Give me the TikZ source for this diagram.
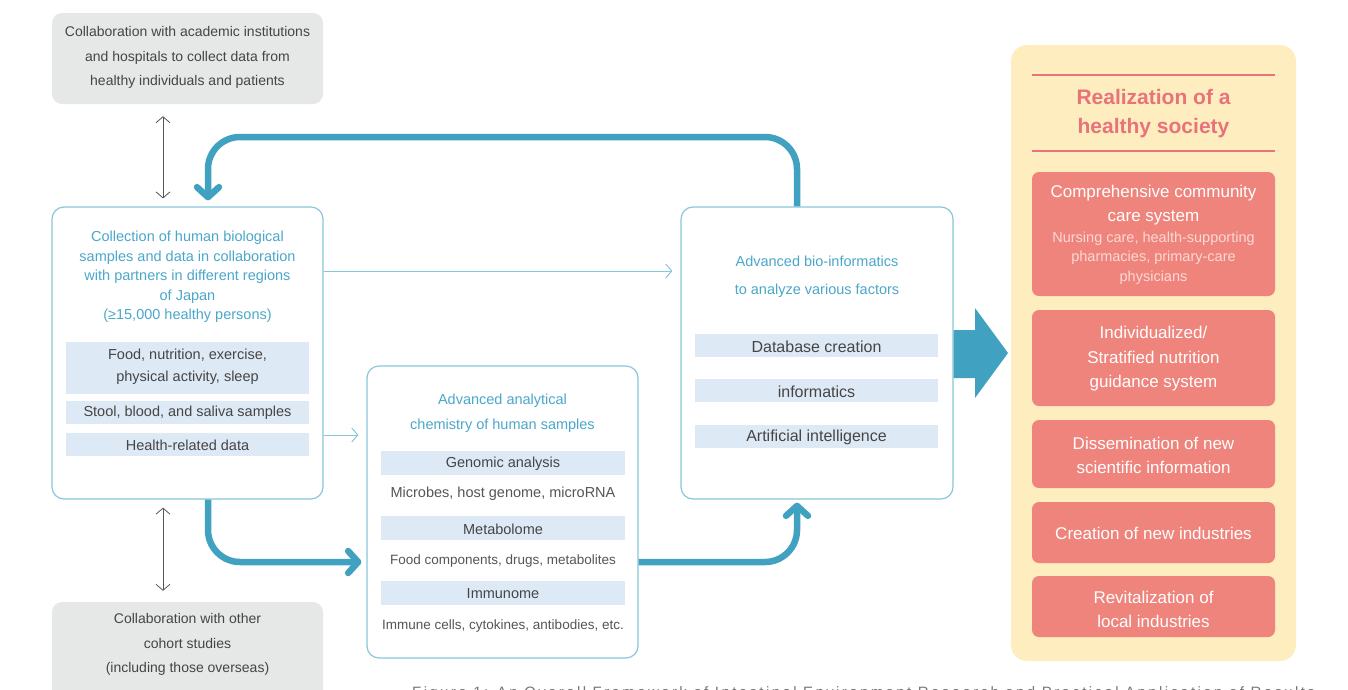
\documentclass[tikz,border=0pt]{standalone}
\usepackage{fontspec}
\setmainfont{Liberation Sans}
\newfontfamily\capfont[LetterSpace=16]{Liberation Sans}
\usetikzlibrary{arrows.meta}
\definecolor{boxgray}{HTML}{E6E7E7}
\definecolor{txtgray}{HTML}{454545}
\definecolor{plaingray}{HTML}{555555}
\definecolor{bordblue}{HTML}{88C6DA}
\definecolor{titleblue}{HTML}{4BA7CA}
\definecolor{bandblue}{HTML}{DEE9F6}
\definecolor{flowteal}{HTML}{41A1C1}
\definecolor{panelyellow}{HTML}{FEEDBF}
\definecolor{salmonbox}{HTML}{EF847C}
\definecolor{titlered}{HTML}{E8737A}
\definecolor{subpink}{HTML}{FBD9D4}
\definecolor{arrowgray}{HTML}{555555}
\definecolor{capgray}{HTML}{777777}
\newcommand{\fsz}[2]{\fontsize{#1pt}{#2pt}\selectfont}
\tikzset{
  graybox/.style={fill=boxgray, draw=none, rounded corners=10pt, inner sep=0pt},
  mainbox/.style={draw=bordblue, line width=1.2pt, fill=white, rounded corners=12pt, inner sep=0pt},
  bandbox/.style={fill=bandblue, draw=none, inner sep=0pt},
  salbox/.style={fill=salmonbox, draw=none, rounded corners=7pt, inner sep=0pt, minimum width=243pt},
  graytext/.style={font=\fsz{14}{24.5}, text=txtgray, align=center, inner sep=0pt},
  titletext/.style={font=\fsz{14.5}{19.5}, text=titleblue, align=center, inner sep=0pt},
  bandtext/.style={font=\fsz{14.5}{22}, text=txtgray, align=center, inner sep=0pt},
  plaintext/.style={font=\fsz{13.5}{18}, text=plaingray, align=center, inner sep=0pt},
  saltext/.style={font=\fsz{17}{24.5}, text=white, align=center, inner sep=0pt},
  subtext/.style={font=\fsz{14.5}{19.5}, text=subpink, align=center, inner sep=0pt},
  thickflow/.style={draw=flowteal, line width=6.5pt, rounded corners=32pt,
     -{Straight Barb[length=10pt,width=22pt,line cap=round,line join=round]}},
  thinflow/.style={draw=bordblue, line width=1pt, -{Straight Barb[length=6pt,width=14pt]}},
  dblarrow/.style={draw=arrowgray, line width=0.8pt,
     {Straight Barb[length=6pt,width=14pt]}-{Straight Barb[length=6pt,width=14pt]}},
}
\begin{document}
\begin{tikzpicture}[x=1pt,y=-1pt]
\useasboundingbox (0,0) rectangle (1348,689);
\clip (0,0) rectangle (1348,689);

% ---------- left column ----------
\node[graybox, minimum width=271pt, minimum height=91pt] (tb) at (187.5,58.5) {};
\node[graytext] (tbt) at (187.5,57.5) {Collaboration with academic institutions\\and hospitals to collect data from\\healthy individuals and patients};

\node[mainbox, minimum width=271pt, minimum height=292pt] (lb) at (187.5,353) {};
\node[titletext] (lbt) at (187.5,277) {Collection of human biological\\samples and data in collaboration\\with partners in different regions\\of Japan\\(≥15,000 healthy persons)};
\node[bandbox, minimum width=243pt, minimum height=52pt] (lb1) at (187.5,368) {};
\node[bandtext] (lb1t) at (187.5,367) {Food, nutrition, exercise,\\physical activity, sleep};
\node[bandbox, minimum width=243pt, minimum height=23pt] (lb2) at (187.5,412.5) {};
\node[bandtext] (lb2t) at (187.5,413) {Stool, blood, and saliva samples};
\node[bandbox, minimum width=243pt, minimum height=23pt] (lb3) at (187.5,444.5) {};
\node[bandtext] (lb3t) at (187.5,445.5) {Health-related data};

\node[graybox, minimum width=271pt, minimum height=120pt] (bb) at (187.5,662) {};
\node[graytext] (bbt) at (187.5,644.5) {Collaboration with other\\cohort studies\\(including those overseas)};

% ---------- middle box ----------
\node[mainbox, minimum width=271pt, minimum height=292pt] (mb) at (502.5,512) {};
\node[titletext, font=\fsz{14.5}{25}] (mbt) at (502.5,413.5) {Advanced analytical\\chemistry of human samples};
\node[bandbox, minimum width=244pt, minimum height=24pt] (mb1) at (503,463) {};
\node[bandtext] (mb1t) at (503,464) {Genomic analysis};
\node[plaintext, font=\fsz{14.5}{18}] (mb1p) at (503,494) {Microbes, host genome, microRNA};
\node[bandbox, minimum width=244pt, minimum height=24pt] (mb2) at (503,528) {};
\node[bandtext] (mb2t) at (503,529) {Metabolome};
\node[plaintext] (mb2p) at (503,561) {Food components, drugs, metabolites};
\node[bandbox, minimum width=244pt, minimum height=24pt] (mb3) at (503,593) {};
\node[bandtext] (mb3t) at (503,594) {Immunome};
\node[plaintext] (mb3p) at (503,626) {Immune cells, cytokines, antibodies, etc.};

% ---------- right analysis box ----------
\node[mainbox, minimum width=272pt, minimum height=292pt] (rb) at (817,353) {};
\node[titletext, font=\fsz{14.5}{28}] (rbt) at (817,276.5) {Advanced bio-informatics\\to analyze various factors};
\node[bandbox, minimum width=243pt, minimum height=23pt] (rb1) at (816.5,345.5) {};
\node[bandtext, font=\fsz{16}{20}] (rb1t) at (816.5,346.5) {Database creation};
\node[bandbox, minimum width=243pt, minimum height=23pt] (rb2) at (816.5,390.5) {};
\node[bandtext, font=\fsz{16}{20}] (rb2t) at (816.5,391.5) {informatics};
\node[bandbox, minimum width=243pt, minimum height=23pt] (rb3) at (816.5,436.5) {};
\node[bandtext, font=\fsz{16}{20}] (rb3t) at (816.5,437.5) {Artificial intelligence};

% ---------- right panel ----------
\node[fill=panelyellow, draw=none, rounded corners=16pt, minimum width=285pt, minimum height=616pt, inner sep=0pt] (pn) at (1153.5,353) {};
\coordinate (l1a) at (1032,75); \coordinate (l1b) at (1275,75);
\coordinate (l2a) at (1032,151); \coordinate (l2b) at (1275,151);
\draw[titlered, line width=1.2pt] (l1a) -- (l1b);
\draw[titlered, line width=1.2pt] (l2a) -- (l2b);
\node[font=\bfseries\fsz{21}{29}, text=titlered, align=center, inner sep=0pt] (pnt) at (1153.5,113.5) {Realization of a\\healthy society};

\node[salbox, minimum height=124pt] (s1) at (1153.5,234) {};
\node[saltext, font=\fsz{17}{24}] (s1t) at (1153.5,205.5) {Comprehensive community\\care system};
\node[subtext] (s1s) at (1153.5,258) {Nursing care, health-supporting\\pharmacies, primary-care\\physicians};
\node[salbox, minimum height=96pt] (s2) at (1153.5,358) {};
\node[saltext] (s2t) at (1153.5,359) {Individualized/\\Stratified nutrition\\guidance system};
\node[salbox, minimum height=68pt] (s3) at (1153.5,454) {};
\node[saltext] (s3t) at (1153.5,455.5) {Dissemination of new\\scientific information};
\node[salbox, minimum height=61pt] (s4) at (1153.5,532.5) {};
\node[saltext] (s4t) at (1153.5,533) {Creation of new industries};
\node[salbox, minimum height=61pt] (s5) at (1153.5,606.5) {};
\node[saltext] (s5t) at (1153.5,609.5) {Revitalization of\\local industries};

% ---------- connectors ----------
\draw[dblarrow, shorten <=12pt, shorten >=8pt] ([xshift=-24.5pt]tb.south) -- ([xshift=-24.5pt]lb.north);
\draw[dblarrow, shorten <=8pt, shorten >=11pt] ([xshift=-24.5pt]lb.south) -- ([xshift=-24.5pt]bb.north);

\draw[thinflow, shorten >=8pt] ([yshift=82pt]lb.east) -- ([yshift=82pt]rb.west);
\draw[thinflow, shorten >=8pt] ([yshift=-82pt]lb.east) -- ([yshift=-82pt]lb.east -| mb.west);

\coordinate (topy) at (500,137);
\draw[thickflow, shorten >=6pt] ([xshift=-20pt]rb.north) |- (topy) -| ([xshift=20.5pt]lb.north);
\draw[thickflow, shorten >=5pt] ([xshift=20.5pt]lb.south) |- ([yshift=-50pt]mb.west);
\draw[thickflow, shorten >=3pt] ([yshift=-50pt]mb.east) -| ([xshift=-20pt]rb.south);

% big block arrow
\fill[flowteal] (rb.east |- 0,330) -- (975,330) -- (975,308) -- (1008,353) -- (975,398) -- (975,378) -- (rb.east |- 0,378) -- cycle;

% caption (cut off at the bottom edge, as in the reference)
\node[anchor=base west, inner sep=0pt, text=capgray, font=\capfont\fsz{15}{18}] (cap) at (412,697.5) {Figure 1: An Overall Framework of Intestinal Environment Research and Practical Application of Results};
\end{tikzpicture}
\end{document}
